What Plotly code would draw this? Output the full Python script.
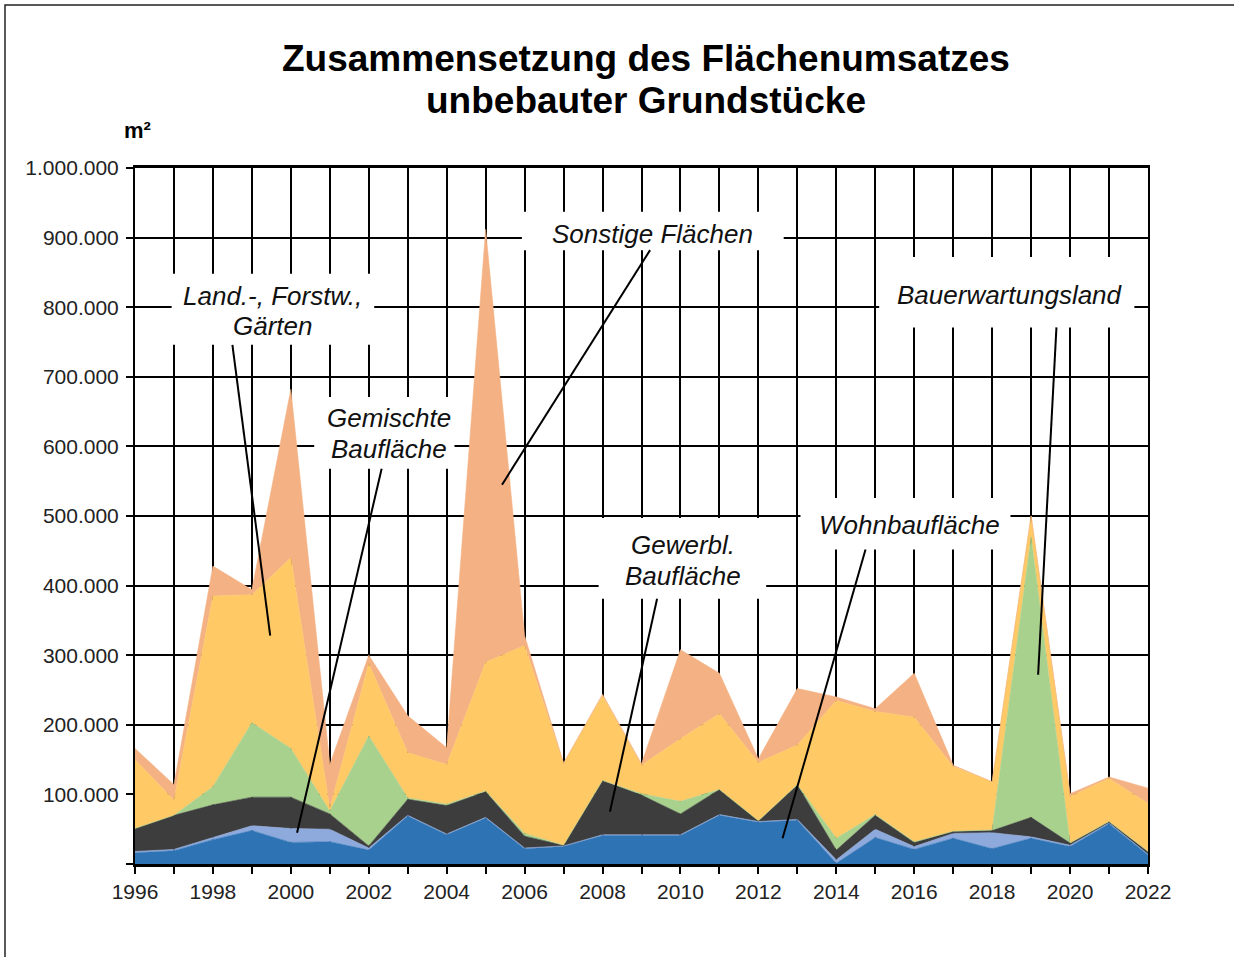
import plotly.graph_objects as go

years = list(range(1996, 2023))

# values in m² (stack order bottom -> top)
wohnbau = [16000, 19000, 35000, 48000, 31000, 32000, 20000, 69000, 42000, 66000, 22000, 25000, 41000, 41000,
           41000, 70000, 60000, 63000, 1000, 38000, 21000, 37000, 22000, 37000, 25000, 58000, 13000]
gemischt = [2000, 2000, 3000, 7000, 20000, 18000, 3000, 1000, 1000, 1000, 1000, 1000, 1000, 1000,
            1000, 1000, 1000, 1000, 5000, 12000, 4000, 7000, 23000, 2000, 2000, 1000, 1000]
gewerbl = [33000, 49000, 47000, 41000, 45000, 22000, 3000, 23000, 41000, 37000, 17000, 1000, 78000, 57000,
           30000, 36000, 1000, 50000, 14000, 20000, 6000, 3000, 3000, 28000, 3000, 2000, 4000]
bauerw = [0, 0, 26000, 107000, 70000, 4000, 158000, 2000, 2000, 1000, 4000, 0, 0, 2000,
          18000, 0, 0, 0, 17000, 1000, 1000, 0, 1000, 403000, 0, 0, 0]
land = [99000, 22000, 274000, 184000, 274000, 4000, 104000, 65000, 57000, 185000, 270000, 117000, 122000, 41000,
        90000, 109000, 84000, 57000, 198000, 148000, 179000, 93000, 69000, 30000, 67000, 62000, 69000]
sonstige = [16000, 22000, 43000, 7000, 242000, 63000, 12000, 53000, 24000, 622000, 14000, 1000, 2000, 2000,
            128000, 58000, 5000, 81000, 5000, 4000, 63000, 2000, 0, 0, 4000, 2000, 22000]

series_names = ["Wohnbaufläche", "Gemischte Baufläche", "Gewerbl. Baufläche",
                "Bauerwartungsland", "Land.-, Forstw., Gärten", "Sonstige Flächen"]
series_values = [wohnbau, gemischt, gewerbl, bauerw, land, sonstige]
series_colors = ["#2E74B5", "#8EA9DB", "#3D3D3D", "#A9D18E", "#FFC966", "#F4B183"]

y_tickvals = [0, 100000, 200000, 300000, 400000, 500000, 600000, 700000, 800000, 900000, 1000000]
y_ticktext = ["", "100.000", "200.000", "300.000", "400.000", "500.000", "600.000",
              "700.000", "800.000", "900.000", "1.000.000"]
x_ticktext = [str(y) if y % 2 == 0 else "" for y in years]

title_lines = ["Zusammensetzung des Flächenumsatzes", "unbebauter Grundstücke"]

FONT = "Liberation Sans, Arial, sans-serif"

fig = go.Figure()
for name, vals, col in zip(series_names, series_values, series_colors):
    fig.add_trace(go.Scatter(
        x=years, y=vals, name=name, stackgroup="one", mode="lines",
        line=dict(width=0.6, color=col), fillcolor=col, hoverinfo="x+y+name"))

# label: text lines, text centre x, line centres y, box (x0, x1, y0, y1), pointer (xa, ya, xb, yb)
labels = [
    (["Land.-, Forstw.,", "Gärten"], 1999.54, [816000, 773000],
     (1996.94, 2002.14, 746000, 848000), (1998.5, 746000, 1999.47, 328000)),
    (["Gemischte", "Baufläche"], 2002.52, [641000, 596000],
     (2000.6, 2004.2, 568000, 671000), (2002.33, 568000, 2000.16, 45000)),
    (["Sonstige Flächen"], 2009.27, [905000],
     (2005.93, 2012.65, 882000, 937000), (2009.22, 882000, 2005.42, 545000)),
    (["Gewerbl.", "Baufläche"], 2010.07, [458000, 414000],
     (2007.9, 2012.2, 381000, 497000), (2009.4, 381000, 2008.19, 75000)),
    (["Wohnbaufläche"], 2015.89, [487000],
     (2013.08, 2018.47, 452000, 526000), (2014.75, 452000, 2012.62, 37000)),
    (["Bauerwartungsland"], 2018.46, [817000],
     (2015.1, 2021.65, 771000, 872000), (2019.65, 771000, 2019.18, 272000)),
]

shapes = []
annotations = []
for lines, tx, tys, (x0, x1, y0, y1), (xa, ya, xb, yb) in labels:
    shapes.append(dict(type="rect", xref="x", yref="y", x0=x0, x1=x1, y0=y0, y1=y1,
                       fillcolor="white", line=dict(width=0), layer="above"))
    shapes.append(dict(type="line", xref="x", yref="y", x0=xa, y0=ya, x1=xb, y1=yb,
                       line=dict(color="black", width=2), layer="above"))
    for line_text, ty in zip(lines, tys):
        annotations.append(dict(x=tx, y=ty, xref="x", yref="y", xanchor="center", yanchor="middle",
                                text="<i>" + line_text + "</i>", showarrow=False,
                                font=dict(family=FONT, size=26, color="#111111")))

# outer frame
shapes.append(dict(type="rect", xref="paper", yref="paper",
                   x0=(5 - 135) / 1013, x1=(1245 - 135) / 1013,
                   y0=(864 - 975) / 696, y1=(864 - 5) / 696,
                   line=dict(color="#222222", width=1.5), fillcolor="rgba(0,0,0,0)", layer="above"))

for line_text, py in zip(title_lines, [58, 100]):
    annotations.append(dict(x=(646 - 135) / 1013, y=(864 - py) / 696, xref="paper", yref="paper",
                            xanchor="center", yanchor="middle",
                            text="<b>" + line_text + "</b>", showarrow=False,
                            font=dict(family=FONT, size=37, color="black")))
annotations.append(dict(x=(137 - 135) / 1013, y=(864 - 130) / 696, xref="paper", yref="paper",
                        xanchor="center", yanchor="middle",
                        text="<b>m²</b>", showarrow=False,
                        font=dict(family=FONT, size=22, color="black")))

fig.update_layout(
    width=1234, height=957,
    margin=dict(l=135, r=86, t=168, b=93),
    paper_bgcolor="white", plot_bgcolor="white",
    showlegend=False,
    shapes=shapes, annotations=annotations,
    font=dict(family=FONT, color="#222222"),
    xaxis=dict(range=[1996, 2022], tickmode="array", tickvals=years, ticktext=x_ticktext,
               showgrid=True, gridcolor="black", gridwidth=2,
               showline=True, linecolor="black", linewidth=2.5, mirror=True,
               ticks="outside", ticklen=7, tickwidth=2, tickcolor="black",
               tickfont=dict(family=FONT, size=21, color="#222222"), zeroline=False,
               fixedrange=True),
    yaxis=dict(range=[0, 1000000], tickmode="array", tickvals=y_tickvals, ticktext=y_ticktext,
               showgrid=True, gridcolor="black", gridwidth=2,
               showline=True, linecolor="black", linewidth=2, mirror=True,
               ticks="outside", ticklen=7, tickwidth=2, tickcolor="black",
               ticklabelstandoff=3,
               tickfont=dict(family=FONT, size=21, color="#222222"), zeroline=False,
               fixedrange=True),
)

fig.write_html("out.html", config={"displayModeBar": False},
               post_script="document.body.style.margin='0';")
